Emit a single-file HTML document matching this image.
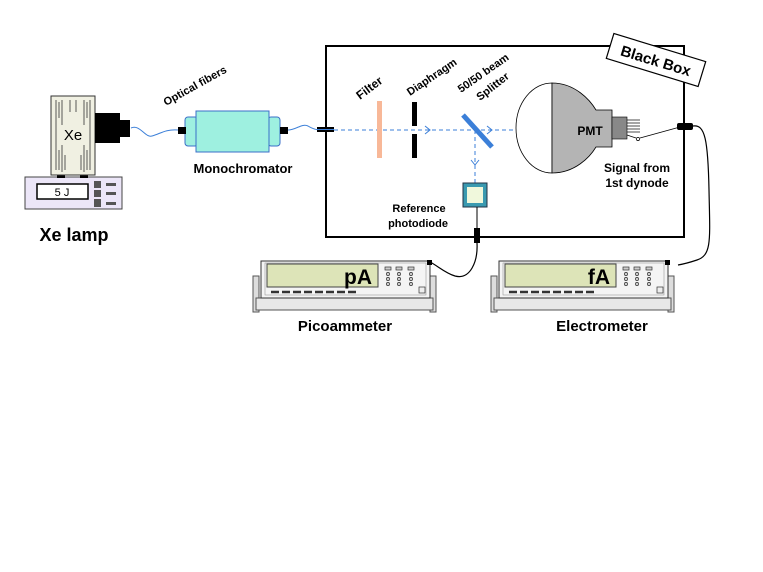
<!DOCTYPE html>
<html><head><meta charset="utf-8"><style>
html,body{margin:0;padding:0;background:#fff;}
svg{display:block;font-family:"Liberation Sans",Arial,sans-serif;}
</style></head><body>
<svg width="763" height="572" viewBox="0 0 763 572" xmlns="http://www.w3.org/2000/svg">
<defs>
<g id="inst">
  <rect x="253" y="276" width="6" height="36" fill="#ddd" stroke="#555" stroke-width="1"/>
  <rect x="430" y="276" width="6" height="36" fill="#ddd" stroke="#555" stroke-width="1"/>
  <rect x="256" y="298" width="177" height="12" fill="#e8e8e8" stroke="#555" stroke-width="1"/>
  <rect x="261" y="261" width="169" height="37" fill="#f4f4f4" stroke="#333" stroke-width="1"/>
  <rect x="265" y="263" width="161" height="32" fill="none" stroke="#999" stroke-width="0.6"/>
  <rect x="267" y="264" width="111" height="23" fill="#dde4b8" stroke="#444" stroke-width="1"/>
  <g fill="#ccc" stroke="#333" stroke-width="0.7">
    <rect x="385" y="267" width="6" height="3"/><rect x="396" y="267" width="6" height="3"/><rect x="408" y="267" width="6" height="3"/>
    <circle cx="388" cy="274" r="1.6"/><circle cx="388" cy="279" r="1.6"/><circle cx="388" cy="284" r="1.6"/>
    <circle cx="399" cy="274" r="1.6"/><circle cx="399" cy="279" r="1.6"/><circle cx="399" cy="284" r="1.6"/>
    <circle cx="411" cy="274" r="1.6"/><circle cx="411" cy="279" r="1.6"/><circle cx="411" cy="284" r="1.6"/>
    <rect x="419" y="287" width="6" height="6" fill="#eee"/>
  </g>
  <g stroke="#333" stroke-width="2.5">
    <line x1="271" y1="292" x2="279" y2="292"/><line x1="282" y1="292" x2="290" y2="292"/>
    <line x1="293" y1="292" x2="301" y2="292"/><line x1="304" y1="292" x2="312" y2="292"/>
    <line x1="315" y1="292" x2="323" y2="292"/><line x1="326" y1="292" x2="334" y2="292"/>
    <line x1="337" y1="292" x2="345" y2="292"/><line x1="348" y1="292" x2="356" y2="292"/>
  </g>
  <rect x="427" y="260" width="5" height="5" fill="#000"/>
</g>
</defs>

<!-- Xe lamp -->
<rect x="25" y="177" width="97" height="32" fill="#ece6f8" stroke="#444"/>
<rect x="37" y="184" width="51" height="15" fill="#fff" stroke="#000" stroke-width="1.5"/>
<text x="62" y="196" font-size="11" text-anchor="middle">5  J</text>
<g fill="#555"><rect x="94" y="181" width="7" height="7"/><rect x="94" y="190" width="7" height="7"/><rect x="94" y="199" width="7" height="8"/></g>
<g fill="#555"><rect x="106" y="183" width="10" height="3"/><rect x="106" y="192" width="10" height="3"/><rect x="106" y="202" width="10" height="3"/></g>
<rect x="57" y="173" width="8" height="5" fill="#000"/><rect x="80" y="173" width="8" height="5" fill="#000"/>
<rect x="51" y="96" width="44" height="79" fill="#f0f0e2" stroke="#333"/>
<g stroke="#333" stroke-width="0.8">
<line x1="56" y1="100" x2="56" y2="170"/><line x1="59" y1="102" x2="59" y2="118"/><line x1="62" y1="100" x2="62" y2="125"/>
<line x1="59" y1="150" x2="59" y2="170"/><line x1="62" y1="145" x2="62" y2="172"/><line x1="65" y1="155" x2="65" y2="170"/>
<line x1="84" y1="100" x2="84" y2="125"/><line x1="87" y1="102" x2="87" y2="118"/><line x1="90" y1="100" x2="90" y2="170"/>
<line x1="84" y1="145" x2="84" y2="172"/><line x1="87" y1="150" x2="87" y2="170"/><line x1="81" y1="155" x2="81" y2="170"/>
<line x1="70" y1="100" x2="70" y2="112"/><line x1="76" y1="100" x2="76" y2="112"/>
</g>
<text x="73" y="140" font-size="15" text-anchor="middle">Xe</text>
<rect x="95" y="113" width="25" height="30" fill="#000"/>
<rect x="119" y="120" width="11" height="17" fill="#000"/>
<text x="74" y="241" font-size="18" font-weight="bold" text-anchor="middle">Xe lamp</text>

<!-- fibers -->
<path d="M131,128 C140,124 145,138 152,136 C160,134 165,129 178,130" fill="none" stroke="#3b7fd8" stroke-width="1"/>
<path d="M288,130 C296,130 302,123 308,126 C313,129 316,130 320,130" fill="none" stroke="#3b7fd8" stroke-width="1"/>
<text transform="translate(166,106) rotate(-29)" font-size="11" font-weight="bold">Optical fibers</text>

<!-- monochromator -->
<rect x="185" y="117" width="13" height="29" rx="3" fill="#9ef0e0" stroke="#3b6fc8"/>
<rect x="268" y="117" width="12" height="29" rx="3" fill="#9ef0e0" stroke="#3b6fc8"/>
<rect x="196" y="111" width="73" height="41" fill="#9ef0e0" stroke="#3b6fc8"/>
<rect x="178" y="127" width="8" height="7" fill="#000"/>
<rect x="280" y="127" width="8" height="7" fill="#000"/>
<text x="243" y="173" font-size="13" font-weight="bold" text-anchor="middle">Monochromator</text>

<!-- black box -->
<rect x="326" y="46" width="358" height="191" fill="none" stroke="#000" stroke-width="2"/>
<g transform="translate(656,60) rotate(17)">
  <rect x="-48" y="-13" width="96" height="26" fill="#fff" stroke="#000" stroke-width="1.2"/>
  <text x="0" y="6" font-size="15" font-weight="bold" text-anchor="middle">Black Box</text>
</g>
<rect x="317" y="127" width="17" height="5" fill="#000"/>
<line x1="317" y1="129.5" x2="334" y2="129.5" stroke="#3b7fd8" stroke-width="1"/>

<!-- beam -->
<line x1="334" y1="130" x2="517" y2="130" stroke="#3b7fd8" stroke-width="1" stroke-dasharray="4,3"/>
<path d="M425,126 L430,130 L425,134" fill="none" stroke="#3b7fd8"/>
<path d="M487,126 L492,130 L487,134" fill="none" stroke="#3b7fd8"/>
<line x1="475" y1="130" x2="475" y2="183" stroke="#3b7fd8" stroke-width="1" stroke-dasharray="4,3"/>
<path d="M471,160 L475,165 L479,160" fill="none" stroke="#3b7fd8"/>
<rect x="377" y="101" width="5" height="57" fill="#f8b898"/>
<rect x="412" y="102" width="5" height="24" fill="#000"/>
<rect x="412" y="134" width="5" height="24" fill="#000"/>
<line x1="463" y1="115" x2="492" y2="147" stroke="#3b7fd8" stroke-width="5"/>
<text transform="translate(360,100) rotate(-37)" font-size="12" font-weight="bold">Filter</text>
<text transform="translate(410,96) rotate(-34)" font-size="11" font-weight="bold">Diaphragm</text>
<text transform="translate(461,93) rotate(-35)" font-size="11" font-weight="bold">50/50 beam</text>
<text transform="translate(480,101) rotate(-38)" font-size="11" font-weight="bold">Splitter</text>

<!-- photodiode -->
<rect x="463" y="183" width="24" height="24" fill="#3a9ab0" stroke="#234" stroke-width="1"/>
<rect x="467" y="187" width="16" height="16" fill="#f0f8dc"/>
<line x1="477" y1="207" x2="477" y2="232" stroke="#000"/>
<rect x="474" y="228" width="6" height="15" fill="#000"/>
<text x="419" y="212" font-size="11" font-weight="bold" text-anchor="middle">Reference</text>
<text x="418" y="227" font-size="11" font-weight="bold" text-anchor="middle">photodiode</text>
<path d="M477,243 C478,262 470,280 455,276 C445,273 438,266 430,262" fill="none" stroke="#000" stroke-width="1.2"/>

<!-- PMT -->
<path d="M552,83 A36,45 0 0 0 552,173 Z" fill="#fff" stroke="#000" stroke-width="0.8"/>
<path d="M552,83 C575,83 590,100 596,110 L612,110 L612,147 L596,147 C590,157 575,173 552,173 Z" fill="#b4b4b4" stroke="#000" stroke-width="0.8"/>
<rect x="612" y="117" width="15" height="22" fill="#888" stroke="#000" stroke-width="0.6"/>
<g stroke="#000" stroke-width="0.7"><line x1="627" y1="120" x2="640" y2="120"/><line x1="627" y1="123" x2="640" y2="123"/><line x1="627" y1="126" x2="640" y2="126"/><line x1="627" y1="129" x2="640" y2="129"/><line x1="627" y1="132" x2="640" y2="132"/><line x1="627" y1="135" x2="636" y2="138"/></g>
<circle cx="638" cy="139" r="1.6" fill="#fff" stroke="#000" stroke-width="0.7"/>
<line x1="640" y1="138" x2="680" y2="127" stroke="#000" stroke-width="0.8"/>
<text x="590" y="135" font-size="12" font-weight="bold" text-anchor="middle">PMT</text>
<rect x="677" y="123" width="16" height="7" rx="2" fill="#000"/>
<text x="637" y="172" font-size="12" font-weight="bold" text-anchor="middle">Signal from</text>
<text x="637" y="187" font-size="12" font-weight="bold" text-anchor="middle">1st dynode</text>
<path d="M693,126 C705,124 708,140 709,190 C710,240 712,255 697,260 C688,263 684,264 678,265" fill="none" stroke="#000" stroke-width="1.2"/>

<!-- instruments -->
<use href="#inst"/>
<text x="372" y="284" font-size="21" font-weight="bold" text-anchor="end">pA</text>
<g transform="translate(238,0)"><use href="#inst"/></g>
<text x="610" y="284" font-size="21" font-weight="bold" text-anchor="end">fA</text>
<text x="345" y="331" font-size="15" font-weight="bold" text-anchor="middle">Picoammeter</text>
<text x="602" y="331" font-size="15" font-weight="bold" text-anchor="middle">Electrometer</text>
</svg>
</body></html>
